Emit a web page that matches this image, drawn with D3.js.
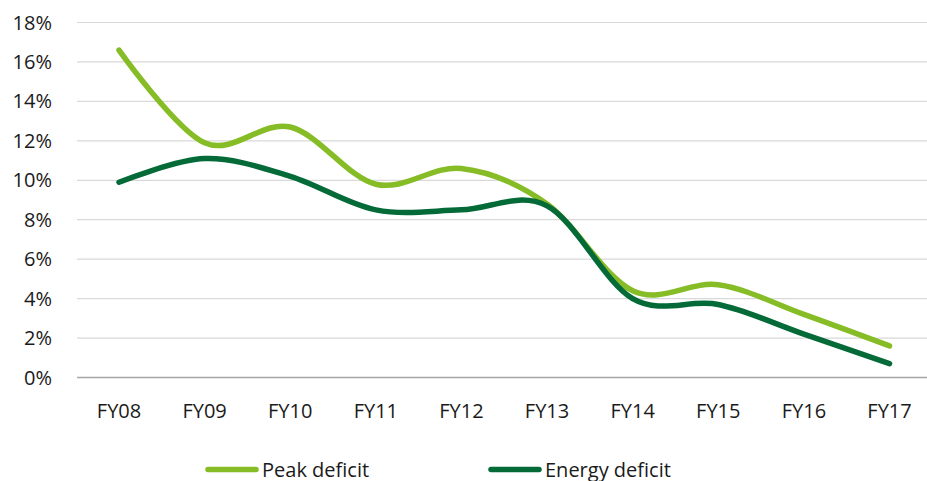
<!DOCTYPE html>
<html>
<head>
<meta charset="utf-8">
<script src="https://cdn.jsdelivr.net/npm/d3@7"></script>
<style>
  html, body { margin: 0; padding: 0; background: #fff; overflow: hidden; }
  svg { display: block; }
  text { font-family: "Open Sans", sans-serif; fill: #1a1a1a; }
</style>
</head>
<body>
<svg id="chart" width="927" height="481"></svg>
<script>
const categories = ["FY08","FY09","FY10","FY11","FY12","FY13","FY14","FY15","FY16","FY17"];
const peakDeficit = [16.6, 11.9, 12.7, 9.8, 10.6, 8.8, 4.4, 4.7, 3.2, 1.6];
const energyDeficit = [9.9, 11.1, 10.2, 8.5, 8.5, 8.7, 4.0, 3.7, 2.2, 0.7];
const yTicks = [0, 2, 4, 6, 8, 10, 12, 14, 16, 18];
const seriesNames = ["Peak deficit", "Energy deficit"];
const seriesColors = ["#86BC25", "#046A38"];

const svg = d3.select("#chart");
const x = d3.scalePoint().domain(categories).range([119, 889.5]);
const y = d3.scaleLinear().domain([0, 18]).range([377.5, 22.5]);

// gridlines
svg.append("g").selectAll("line").data(yTicks.filter(d => d > 0)).join("line")
  .attr("x1", 77).attr("x2", 927)
  .attr("y1", d => y(d)).attr("y2", d => y(d))
  .attr("stroke", "#d9d9d9").attr("stroke-width", 1.2);

// base axis line
svg.append("line").attr("x1", 77).attr("x2", 927)
  .attr("y1", y(0)).attr("y2", y(0))
  .attr("stroke", "#a6a6a6").attr("stroke-width", 1.5);

// y labels
svg.append("g").selectAll("text").data(yTicks).join("text")
  .attr("x", 52).attr("y", d => y(d)).attr("dy", "0.35em")
  .attr("text-anchor", "end").attr("font-size", 20)
  .text(d => d + "%");

// x labels
svg.append("g").selectAll("text").data(categories).join("text")
  .attr("x", d => x(d)).attr("y", 418)
  .attr("text-anchor", "middle").attr("font-size", 20)
  .text(d => d);

const line = d3.line()
  .x((d, i) => x(categories[i]))
  .y(d => y(d))
  .curve(d3.curveCardinal.tension(0));

[peakDeficit, energyDeficit].forEach((vals, i) => {
  svg.append("path").datum(vals)
    .attr("d", line)
    .attr("fill", "none")
    .attr("stroke", seriesColors[i])
    .attr("stroke-width", 5.5)
    .attr("stroke-linecap", "round")
    .attr("stroke-linejoin", "round");
});

// legend
const legendX = [206, 489];
seriesNames.forEach((name, i) => {
  const g = svg.append("g");
  g.append("line")
    .attr("x1", legendX[i] + 2).attr("x2", legendX[i] + 50)
    .attr("y1", 469.5).attr("y2", 469.5)
    .attr("stroke", seriesColors[i]).attr("stroke-width", 5.5)
    .attr("stroke-linecap", "round");
  g.append("text")
    .attr("x", legendX[i] + 56).attr("y", 476.5)
    .attr("font-size", 20)
    .text(name);
});
</script>
</body>
</html>
